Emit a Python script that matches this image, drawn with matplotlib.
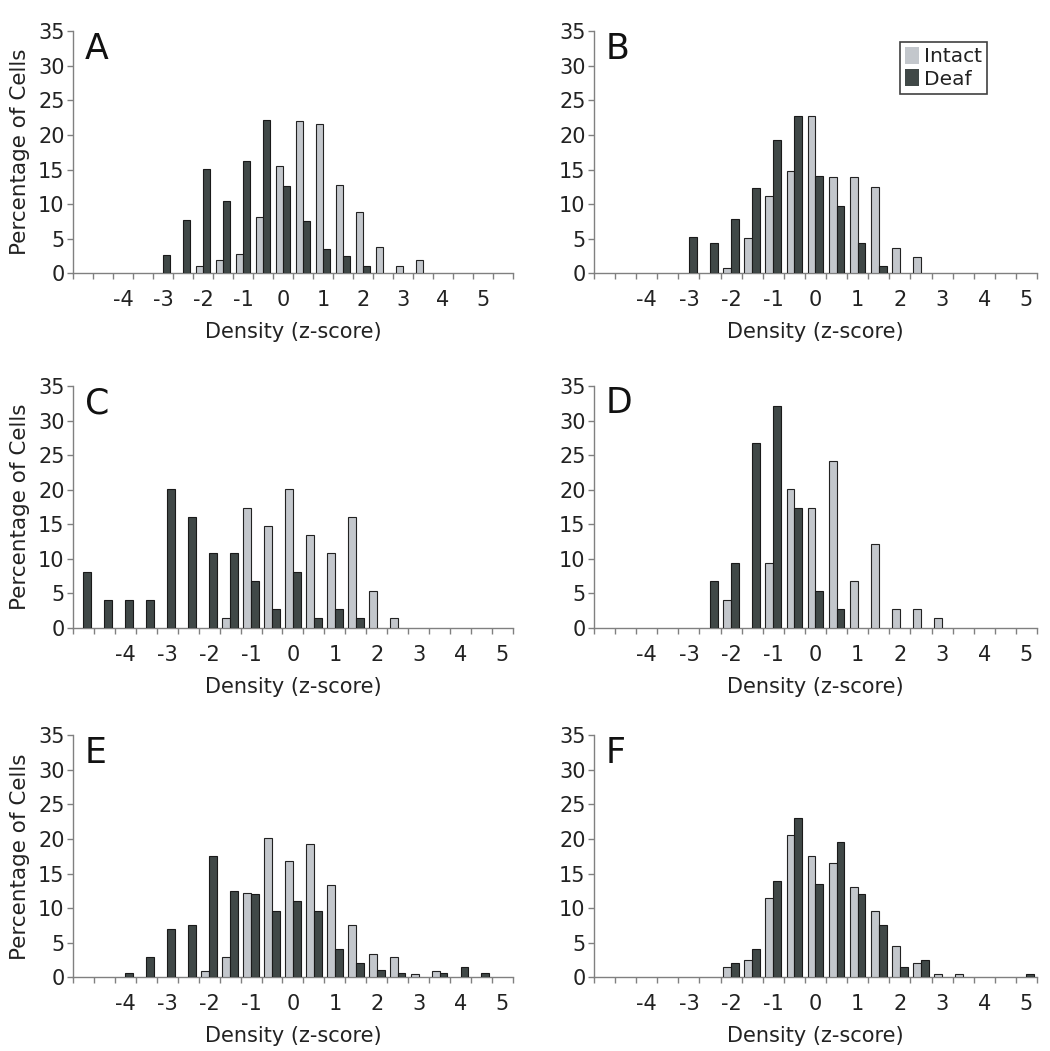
import numpy as np
import matplotlib
matplotlib.use("Agg")
import matplotlib.pyplot as plt
from matplotlib.patches import Patch

plt.rcParams["font.family"] = ["DejaVu Sans"]

# z-score bins (category centres), panel A has one extra empty bin at 5.5
z_bins = [-5, -4.5, -4, -3.5, -3, -2.5, -2, -1.5, -1, -0.5, 0,
          0.5, 1, 1.5, 2, 2.5, 3, 3.5, 4, 4.5, 5]
z_bins_a = z_bins + [5.5]

intact_a = [0, 0, 0, 0, 0, 0, 1.0, 1.9, 2.8, 8.2, 15.5, 22.0, 21.6, 12.8, 8.9, 3.8, 1.0, 1.9, 0, 0, 0, 0]
deaf_a = [0, 0, 0, 0, 2.6, 7.7, 15.1, 10.5, 16.3, 22.1, 12.6, 7.6, 3.5, 2.5, 1.0, 0, 0, 0, 0, 0, 0, 0]

intact_b = [0, 0, 0, 0, 0, 0, 0.8, 5.1, 11.2, 14.8, 22.8, 13.9, 13.9, 12.5, 3.7, 2.3, 0, 0, 0, 0, 0]
deaf_b = [0, 0, 0, 0, 5.3, 4.4, 7.9, 12.3, 19.3, 22.8, 14.0, 9.7, 4.4, 1.0, 0, 0, 0, 0, 0, 0, 0]

intact_c = [0, 0, 0, 0, 0, 0, 0, 1.4, 17.4, 14.8, 20.1, 13.4, 10.8, 16.1, 5.4, 1.4, 0, 0, 0, 0, 0]
deaf_c = [8.1, 4.0, 4.0, 4.0, 20.1, 16.1, 10.8, 10.8, 6.8, 2.7, 8.1, 1.4, 2.7, 1.4, 0, 0, 0, 0, 0, 0, 0]

intact_d = [0, 0, 0, 0, 0, 0, 4.1, 0, 9.4, 20.1, 17.4, 24.1, 6.8, 12.1, 2.7, 2.7, 1.4, 0, 0, 0, 0]
deaf_d = [0, 0, 0, 0, 0, 6.8, 9.4, 26.8, 32.1, 17.4, 5.4, 2.7, 0, 0, 0, 0, 0, 0, 0, 0, 0]

intact_e = [0, 0, 0, 0, 0, 0, 0.9, 3.0, 12.2, 20.1, 16.8, 19.3, 13.4, 7.5, 3.4, 3.0, 0.5, 0.9, 0, 0, 0]
deaf_e = [0, 0, 0.6, 3.0, 7.0, 7.5, 17.6, 12.5, 12.1, 9.6, 11.1, 9.6, 4.1, 2.0, 1.1, 0.6, 0, 0.6, 1.5, 0.6, 0]

intact_f = [0, 0, 0, 0, 0, 0, 1.55, 2.55, 11.5, 20.6, 17.55, 16.5, 13.05, 9.55, 4.55, 2.0, 0.5, 0.5, 0, 0, 0]
deaf_f = [0, 0, 0, 0, 0, 0, 2.0, 4.05, 14.0, 23.05, 13.55, 19.5, 12.05, 7.5, 1.55, 2.55, 0, 0, 0, 0, 0.5]

panels = [
    ("A", z_bins_a, intact_a, deaf_a),
    ("B", z_bins, intact_b, deaf_b),
    ("C", z_bins, intact_c, deaf_c),
    ("D", z_bins, intact_d, deaf_d),
    ("E", z_bins, intact_e, deaf_e),
    ("F", z_bins, intact_f, deaf_f),
]

light = "#c3c7cc"
dark = "#404847"
spine_col = "#808080"
text_col = "#222222"

fig = plt.figure(figsize=(10.5, 10.51), dpi=100)

lefts = [0.0695, 0.5657]
widths = [0.419, 0.4219]
bottoms = [0.740, 0.4025, 0.0701]
height = 0.2303
bw = 0.37

for i, (letter, bins, intact, deaf) in enumerate(panels):
    row, col = divmod(i, 2)
    ax = fig.add_axes([lefts[col], bottoms[row], widths[col], height])
    n = len(bins)
    x = np.arange(n) + 0.5
    intact = np.array(intact)
    deaf = np.array(deaf)
    mi = intact > 0
    md = deaf > 0
    ax.bar(x[mi] - bw / 2, intact[mi], width=bw, color=light,
           edgecolor="#222222", linewidth=0.8, zorder=3)
    ax.bar(x[md] + bw / 2, deaf[md], width=bw, color=dark,
           edgecolor="#1a1a1a", linewidth=0.8, zorder=3)

    ax.set_xlim(0, n)
    ax.set_ylim(0, 35)
    ax.set_yticks(range(0, 36, 5))
    ax.set_xticks(np.arange(n + 1))
    ax.set_xticklabels([])
    lab_pos = [x[k] for k, z in enumerate(bins) if float(z).is_integer() and -4 <= z <= 5]
    lab_txt = [f"{int(z)}" for z in bins if float(z).is_integer() and -4 <= z <= 5]
    ax.set_xticks(lab_pos, lab_txt, minor=True)
    ax.tick_params(axis="x", which="minor", length=0, pad=12,
                   labelsize=15, labelcolor=text_col)
    ax.tick_params(axis="x", which="major", length=4, width=1, color=spine_col)
    ax.tick_params(axis="y", length=4, width=1, color=spine_col, pad=2,
                   labelsize=15, labelcolor=text_col)

    for s in ["top", "right"]:
        ax.spines[s].set_visible(False)
    for s in ["left", "bottom"]:
        ax.spines[s].set_color(spine_col)
        ax.spines[s].set_linewidth(1)

    ax.set_xlabel("Density (z-score)", fontsize=15, color=text_col, labelpad=9)
    if col == 0:
        ax.set_ylabel("Percentage of Cells", fontsize=15.5, color=text_col, labelpad=6)

    ax.text(0.027, 0.998, letter, transform=ax.transAxes, fontsize=25,
            ha="left", va="top", color="#111111")

    if letter == "B":
        handles = [Patch(facecolor=light, edgecolor="none", label="Intact"),
                   Patch(facecolor=dark, edgecolor="none", label="Deaf")]
        leg = ax.legend(handles=handles, loc="upper left",
                        bbox_to_anchor=(0.69, 0.955), fontsize=14.5,
                        frameon=True, fancybox=False, handlelength=0.7,
                        handleheight=0.9, handletextpad=0.25,
                        borderpad=0.25, labelspacing=0.15, borderaxespad=0)
        leg.get_frame().set_edgecolor("#111111")
        leg.get_frame().set_linewidth(1.2)
        for t in leg.get_texts():
            t.set_color(text_col)

fig.savefig("out.png", dpi=100)
